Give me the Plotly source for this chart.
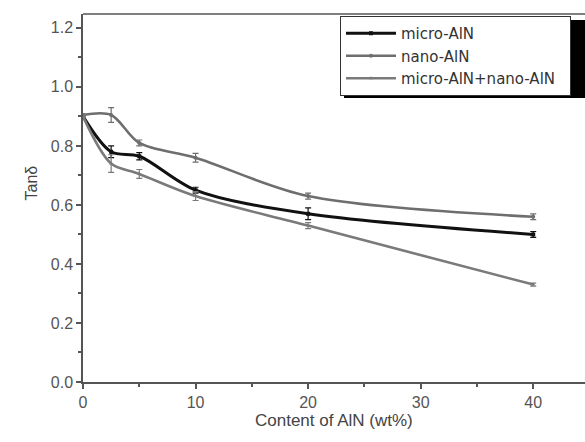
import plotly.graph_objects as go

x_vals = [0, 2.5, 5, 10, 20, 40]
micro = [0.90, 0.78, 0.765, 0.65, 0.57, 0.50]
micro_err = [0.0, 0.02, 0.012, 0.01, 0.02, 0.01]
nano = [0.905, 0.905, 0.81, 0.76, 0.63, 0.56]
nano_err = [0.0, 0.025, 0.01, 0.015, 0.01, 0.01]
mix = [0.90, 0.74, 0.705, 0.63, 0.53, 0.33]
mix_err = [0.0, 0.03, 0.015, 0.015, 0.01, 0.005]
names = ["micro-AlN", "nano-AlN", "micro-AlN+nano-AlN"]

W, H = 585, 442
L, R, T, B = 83, 0, 14, 60
pw = W - L - R
ph = H - T - B

def px(xp):
    return (xp - L) / pw

def py(yp):
    return (H - B - yp) / ph

fig = go.Figure()
specs = [
    (micro, micro_err, names[0], "#111111", "square", 3.0),
    (nano, nano_err, names[1], "#6e6e6e", "circle", 2.6),
    (mix, mix_err, names[2] + "\u00a0\u00a0", "#7a7a7a", "triangle-up", 2.6),
]
for ys, es, nm, col, sym, lw in specs:
    fig.add_trace(go.Scatter(
        x=x_vals, y=ys, name=nm, mode="lines+markers",
        line=dict(color=col, width=lw, shape="spline", smoothing=0.9),
        marker=dict(symbol=sym, size=4, color=col),
        error_y=dict(type="data", array=es, visible=True, color=col, thickness=1.2, width=3),
    ))

# legend shadow
fig.add_shape(type="rect", xref="paper", yref="paper",
              x0=px(344), x1=px(586), y0=py(98), y1=py(20),
              fillcolor="black", line=dict(width=0), layer="above")
# top frame line
fig.add_shape(type="line", xref="paper", yref="paper", x0=0, x1=1, y0=1, y1=1,
              line=dict(color="#555555", width=1.5))

fig.add_annotation(text="Content of AlN (wt%)", xref="paper", yref="paper",
                   x=px(334), y=py(432), showarrow=False,
                   font=dict(size=17, color="#444444"))
fig.add_annotation(text="Tanδ", xref="paper", yref="paper",
                   x=px(20), y=py(183), showarrow=False, textangle=-90,
                   font=dict(size=16, color="#444444"))

axis_common = dict(showgrid=False, zeroline=False, automargin=False,
                   showline=True, linecolor="#555555", linewidth=1.5,
                   ticks="outside", ticklen=5, tickcolor="#555555", tickwidth=1.5,
                   tickfont=dict(size=16, color="#555555"))

fig.update_layout(
    width=W, height=H,
    margin=dict(l=L, r=R, t=T, b=B, autoexpand=False),
    paper_bgcolor="white", plot_bgcolor="white",
    font=dict(family="Liberation Sans, Arial, sans-serif", color="#444444", size=16),
    showlegend=True,
    legend=dict(x=px(340), y=py(16), xanchor="left", yanchor="top",
                bgcolor="white", bordercolor="#333333", borderwidth=1,
                font=dict(size=15, color="#333333", family="DejaVu Sans, sans-serif"),
                tracegroupgap=0, itemwidth=50),
    xaxis=dict(range=[0, 44.6], dtick=10, tick0=0,
               minor=dict(ticks="outside", ticklen=3, dtick=5, tickcolor="#555555", tickwidth=1.5),
               **axis_common),
    yaxis=dict(range=[0, 1.247], dtick=0.2, tick0=0, tickformat=".1f",
               minor=dict(ticks="outside", ticklen=3, dtick=0.1, tickcolor="#555555", tickwidth=1.5),
               **axis_common),
)
fig.write_html("out.html", config={"displayModeBar": False},
               post_script="document.body.style.margin='0';document.body.style.overflow='hidden';")
